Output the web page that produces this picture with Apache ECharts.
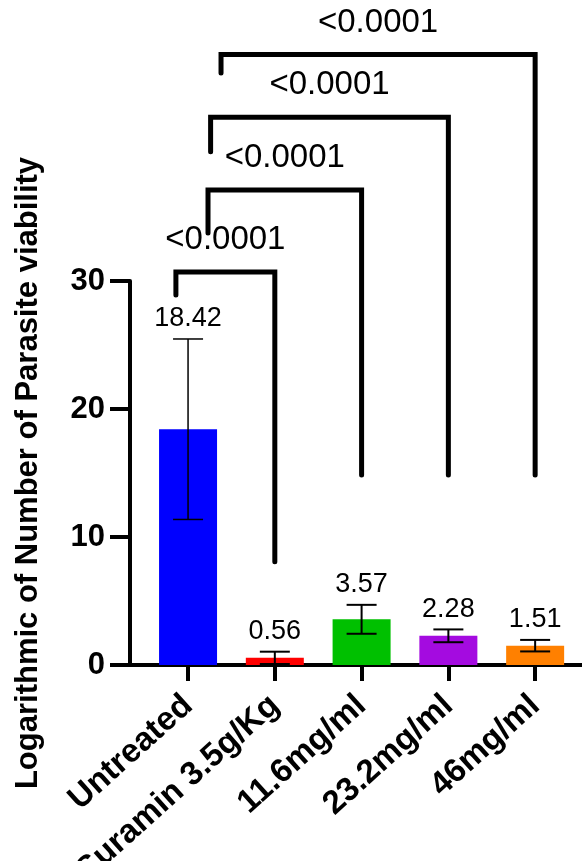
<!DOCTYPE html>
<html>
<head>
<meta charset="utf-8">
<script src="https://cdn.jsdelivr.net/npm/echarts@6/dist/echarts.min.js"></script>
<style>
  html, body { margin: 0; padding: 0; background: #fff; }
  #chart { width: 582px; height: 861px; }
</style>
</head>
<body>
<div id="chart"></div>
<script>
const categories = ['Untreated', 'Suramin 3.5g/Kg', '11.6mg/ml', '23.2mg/ml', '46mg/ml']
const means = [18.42, 0.56, 3.57, 2.28, 1.51]
const sds = [7.05, 0.48, 1.13, 0.5, 0.45]
const barColors = ['#0000ff', '#ff0000', '#00c000', '#a40be0', '#ff8000']
const yTicks = [0, 10, 20, 30]

// Untreated compared with each treatment
const compareTo = [1, 2, 3, 4]
const bracketTop = [30.7, 37.1, 42.8, 47.7]
const leftLegEnd = [28.9, 33.75, 40.1, 46.25]
const rightLegEnd = [8.07, 14.84, 14.84, 14.84]
const leftLegX = [-0.14, 0.23, 0.26, 0.38]
const pValues = ['<0.0001', '<0.0001', '<0.0001', '<0.0001']

const font = 'Liberation Sans, Arial, sans-serif'
const chart = echarts.init(document.getElementById('chart'))

const option = {
  backgroundColor: '#fff',
  animation: false,
  grid: {
    left: 130,
    right: 0,
    top: 281,
    bottom: 196,
    outerBoundsMode: 'none'
  },
  xAxis: {
    type: 'value',
    min: -0.669,
    max: 4.54,
    splitLine: { show: false },
    axisLine: { lineStyle: { color: '#000', width: 4 } },
    axisTick: {
      customValues: categories.map((c, i) => i),
      length: 16,
      lineStyle: { color: '#000', width: 4 }
    },
    axisLabel: {
      customValues: categories.map((c, i) => i),
      formatter: (v) => categories[Math.round(v)],
      rotate: 42,
      margin: 36,
      color: '#000',
      fontFamily: font,
      fontWeight: 'bold',
      fontSize: 33
    }
  },
  yAxis: {
    type: 'value',
    min: yTicks[0],
    max: yTicks[yTicks.length - 1],
    interval: yTicks[1] - yTicks[0],
    name: 'Logarithmic of Number of Parasite viability',
    nameLocation: 'middle',
    nameGap: 86,
    nameTextStyle: { color: '#000', fontFamily: font, fontWeight: 'bold', fontSize: 31 },
    splitLine: { show: false },
    axisLine: { show: true, onZero: false, lineStyle: { color: '#000', width: 4 } },
    axisTick: { show: true, length: 20, lineStyle: { color: '#000', width: 4 } },
    axisLabel: { margin: 25, color: '#000', fontFamily: font, fontWeight: 'bold', fontSize: 31 }
  },
  series: [
    {
      type: 'bar',
      barWidth: 58,
      data: means.map((m, i) => ({ value: [i, m], itemStyle: { color: barColors[i] } }))
    },
    {
      type: 'custom',
      clip: false,
      z: 3,
      data: means.map((m, i) => [i, m, sds[i]]),
      renderItem: (params, api) => {
        const i = api.value(0)
        const m = api.value(1)
        const sd = api.value(2)
        const hi = api.coord([i, m + sd])
        const lo = api.coord([i, m - sd])
        const half = 15
        const lw = i === 0 ? 1.5 : 2
        const st = { stroke: '#000', lineWidth: lw }
        return {
          type: 'group',
          children: [
            { type: 'line', shape: { x1: hi[0], y1: hi[1], x2: lo[0], y2: lo[1] }, style: st },
            { type: 'line', shape: { x1: hi[0] - half, y1: hi[1], x2: hi[0] + half, y2: hi[1] }, style: st },
            { type: 'line', shape: { x1: lo[0] - half, y1: lo[1], x2: lo[0] + half, y2: lo[1] }, style: st },
            {
              type: 'text',
              style: {
                text: m.toFixed(2), x: hi[0], y: hi[1] - 20,
                align: 'center', verticalAlign: 'middle',
                fill: '#000', fontFamily: font, fontSize: 27
              }
            }
          ]
        }
      }
    },
    {
      type: 'custom',
      clip: false,
      z: 4,
      data: compareTo.map((c, k) => [leftLegX[k], c, bracketTop[k], leftLegEnd[k], rightLegEnd[k]]),
      renderItem: (params, api) => {
        const k = params.dataIndex
        const x0 = api.value(0)
        const x1 = api.value(1)
        const top = api.value(2)
        const p1 = api.coord([x0, api.value(3)])
        const p2 = api.coord([x0, top])
        const p3 = api.coord([x1, top])
        const p4 = api.coord([x1, api.value(4)])
        return {
          type: 'group',
          children: [
            {
              type: 'polyline',
              shape: { points: [p1, p2, p3, p4] },
              style: { stroke: '#000', lineWidth: 5, fill: null, lineCap: 'round', lineJoin: 'miter' }
            },
            {
              type: 'text',
              style: {
                text: pValues[k], x: (p2[0] + p3[0]) / 2, y: p2[1] - 32,
                align: 'center', verticalAlign: 'middle',
                fill: '#000', fontFamily: font, fontSize: 33
              }
            }
          ]
        }
      }
    }
  ]
}

chart.setOption(option)
</script>
</body>
</html>
